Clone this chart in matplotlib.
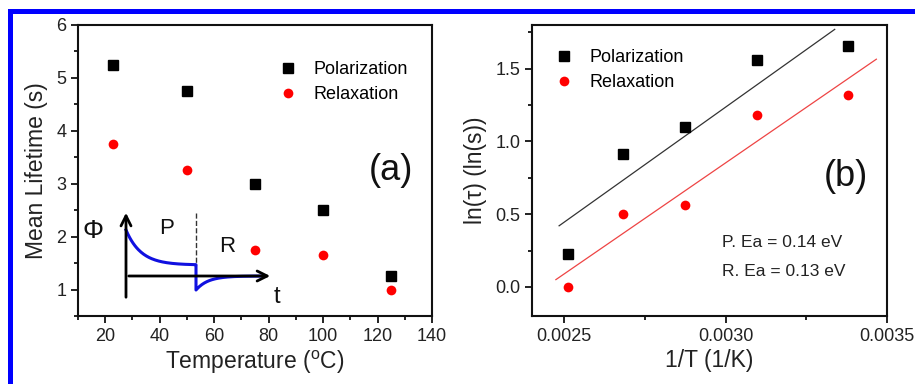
import matplotlib
matplotlib.use("Agg")
import matplotlib.pyplot as plt
import numpy as np
from matplotlib.patches import Rectangle
from matplotlib.ticker import MultipleLocator, FormatStrFormatter

plt.rcParams['font.family'] = ['Liberation Sans', 'DejaVu Sans']

# ---- data (panel a) ----
temperature = [23, 50, 75, 100, 125]
pol_lifetime = [5.25, 4.75, 3.00, 2.50, 1.25]
rel_lifetime = [3.75, 3.25, 1.75, 1.65, 1.00]

# ---- data (panel b) ----
inv_T = [0.002513, 0.002681, 0.002874, 0.003096, 0.003378]
pol_ln = [0.223, 0.916, 1.099, 1.558, 1.658]
rel_ln = [0.000, 0.501, 0.560, 1.179, 1.322]
fit_pol_x = [0.002484, 0.003338]
fit_pol_y = [0.42, 1.77]
fit_rel_x = [0.002474, 0.003467]
fit_rel_y = [0.05, 1.565]

W, H = 915, 384
fig = plt.figure(figsize=(W / 100, H / 100), dpi=100)

def fx(px):
    return px / W

def fy(py):
    return 1 - py / H

# blue frame
fig.add_artist(Rectangle((fx(8), fy(14)), fx(915 - 8), 5 / H, transform=fig.transFigure,
                         facecolor='#0000ff', edgecolor='none'))
fig.add_artist(Rectangle((fx(8), 0), 5 / W, fy(9), transform=fig.transFigure,
                         facecolor='#0000ff', edgecolor='none'))

tick_col = '#222222'

def style(ax):
    for s in ax.spines.values():
        s.set_linewidth(1.5)
        s.set_color('#111111')
    ax.tick_params(which='both', direction='out', top=False, right=False,
                   labelsize=13, labelcolor=tick_col, width=1.3, color='#111111')
    ax.tick_params(which='major', length=5)
    ax.tick_params(which='minor', length=3)

# ---- panel a ----
axa = fig.add_axes([fx(78), fy(316), fx(432 - 78), (316 - 25) / H])
axa.plot(temperature, pol_lifetime, 's', color='black', ms=6.5, label='Polarization', ls='none')
axa.plot(temperature, rel_lifetime, 'o', color='#ff0000', ms=7, label='Relaxation', ls='none',
         markeredgecolor='none')
axa.set_xlim(10, 140)
axa.set_ylim(0.5, 6)
axa.xaxis.set_major_locator(MultipleLocator(20))
axa.xaxis.set_minor_locator(MultipleLocator(10))
axa.yaxis.set_major_locator(MultipleLocator(1))
axa.yaxis.set_minor_locator(MultipleLocator(0.5))
style(axa)
axa.set_xlabel('Temperature ($\\mathregular{^{o}}$C)', fontsize=16.5, color=tick_col, labelpad=3)
axa.set_ylabel('Mean Lifetime (s)', fontsize=16.5, color=tick_col, labelpad=6)
axa.legend(loc='upper right', bbox_to_anchor=(0.967, 0.92), frameon=False, fontsize=13,
           handletextpad=0.9, labelspacing=0.45, handlelength=1.0, borderaxespad=0.3)
axa.text(0.885, 0.5, '(a)', transform=axa.transAxes, fontsize=26, ha='center', va='center',
         color='#111111')

# ---- schematic inset (pixel coordinates) ----
L, R, T, B = 80, 292, 198, 308
axi = fig.add_axes([fx(L), fy(B), fx(R - L), (B - T) / H])
axi.set_xlim(L, R)
axi.set_ylim(B, T)
axi.axis('off')
axi.patch.set_alpha(0)
x0, xs, xe, ybase = 126, 196, 262, 276
axi.annotate('', xy=(x0, 210), xytext=(x0, 300),
             arrowprops=dict(arrowstyle='->', lw=2, color='black', mutation_scale=18))
axi.annotate('', xy=(273, ybase), xytext=(x0, ybase),
             arrowprops=dict(arrowstyle='->', lw=2, color='black', mutation_scale=18))
axi.plot([xs, xs], [213, 265], ls='--', color='#333333', lw=1)
# schematic decay shapes (illustration)
tau_p, tau_r = 15.0, 12.0
xp = np.linspace(x0, xs, 80)
hp = 11 + 35 * np.exp(-(xp - x0) / tau_p)
xr = np.linspace(xs, xe, 80)
hr = -14 * np.exp(-(xr - xs) / tau_r)
cx = np.concatenate([xp, [xs], xr])
cy = np.concatenate([ybase - hp, [ybase + 14], ybase - hr])
axi.plot(cx, cy, color='#1010e0', lw=2.2)
axi.text(93, 231, 'Φ', fontsize=19, ha='center', va='center', color='#111111')
axi.text(167, 228, 'P', fontsize=16, ha='center', va='center', color='#111111')
axi.text(227, 247, 'R', fontsize=16, ha='center', va='center', color='#111111')
axi.text(277, 297, 't', fontsize=17, ha='center', va='center', color='#111111')

# ---- panel b ----
axb = fig.add_axes([fx(532), fy(316), fx(887 - 532), (316 - 25) / H])
axb.plot(fit_pol_x, fit_pol_y, color='#333333', lw=0.9)
axb.plot(fit_rel_x, fit_rel_y, color='#ee4444', lw=0.9)
axb.plot(inv_T, pol_ln, 's', color='black', ms=6.5, label='Polarization', ls='none')
axb.plot(inv_T, rel_ln, 'o', color='#ff0000', ms=7, label='Relaxation', ls='none',
         markeredgecolor='none')
axb.set_xlim(0.0024, 0.0035)
axb.set_ylim(-0.2, 1.8)
axb.xaxis.set_major_locator(MultipleLocator(0.0005))
axb.xaxis.set_minor_locator(MultipleLocator(0.00025))
axb.xaxis.set_major_formatter(FormatStrFormatter('%.4f'))
axb.yaxis.set_major_locator(MultipleLocator(0.5))
axb.yaxis.set_minor_locator(MultipleLocator(0.25))
axb.yaxis.set_major_formatter(FormatStrFormatter('%.1f'))
style(axb)
axb.set_xlabel('1/T (1/K)', fontsize=16.5, color=tick_col, labelpad=3)
axb.set_ylabel('ln(τ) (ln(s))', fontsize=16.5, color=tick_col, labelpad=6)
axb.legend(loc='upper left', bbox_to_anchor=(0.03, 0.96), frameon=False, fontsize=13,
           handletextpad=0.9, labelspacing=0.45, handlelength=1.0, borderaxespad=0.3)
axb.text(0.885, 0.48, '(b)', transform=axb.transAxes, fontsize=26, ha='center', va='center',
         color='#111111')
axb.text(0.535, 0.252, 'P. Ea = 0.14 eV', transform=axb.transAxes, fontsize=12.5,
         ha='left', va='center', color=tick_col)
axb.text(0.535, 0.153, 'R. Ea = 0.13 eV', transform=axb.transAxes, fontsize=12.5,
         ha='left', va='center', color=tick_col)

fig.savefig('out.png', dpi=100)
